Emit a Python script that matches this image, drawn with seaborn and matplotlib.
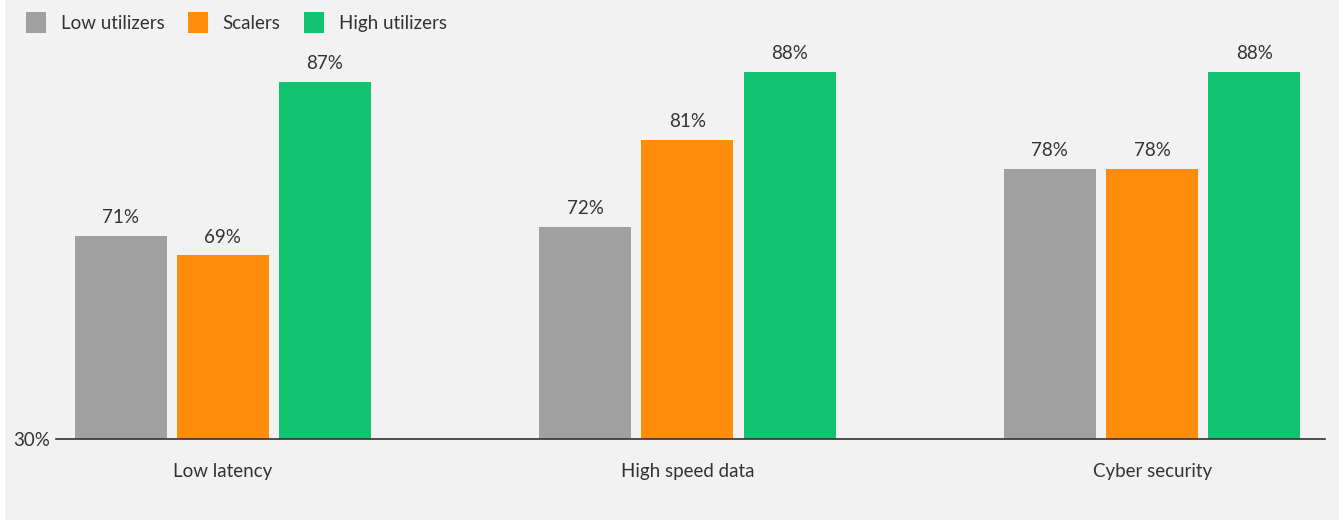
import pandas as pd
import seaborn as sns
import matplotlib.pyplot as plt
from matplotlib.patches import Patch, Rectangle

# data
categories = ["Low latency", "High speed data", "Cyber security"]
groups = ["Low utilizers", "Scalers", "High utilizers"]
low_utilizers = [71, 72, 78]
scalers = [69, 81, 78]
high_utilizers = [87, 88, 88]
floor_label = "30%"

colors = ["#a0a0a0", "#ff8c0a", "#12c46f"]
bg = "#f2f2f2"
ink = "#333333"

df = pd.DataFrame({
    "category": categories * 3,
    "group": [g for g in groups for _ in categories],
    "value": low_utilizers + scalers + high_utilizers,
})

sns.set_theme(style="white")
plt.rcParams["font.family"] = ["Lato", "DejaVu Sans"]

fig = plt.figure(figsize=(13.39, 5.2), dpi=100)
fig.patch.set_facecolor(bg)
# thin white strip on the left edge
fig.patches.append(Rectangle((0, 0), 5 / 1339, 1, transform=fig.transFigure,
                             facecolor="white", edgecolor="none"))

ax = fig.add_axes([56 / 1339, 81 / 520, (1325 - 56) / 1339, (439 - 43) / 520])
ax.set_facecolor(bg)

sns.barplot(data=df, x="category", y="value", hue="group", order=categories,
            hue_order=groups, palette=colors, width=0.66, gap=0.1,
            saturation=1, linewidth=0, ax=ax, legend=False)

for cont in ax.containers:
    ax.bar_label(cont, fmt="%d%%", padding=7, fontsize=13.5, color=ink)

ax.set_ylim(50, 91)
ax.set_xlim(-0.359, 2.372)
ax.set_yticks([50])
ax.set_yticklabels([floor_label])
ax.tick_params(axis="y", length=0, pad=4, labelsize=13.5, labelcolor=ink)
ax.tick_params(axis="x", length=0, pad=17, labelsize=13.5, labelcolor=ink)
ax.set_xlabel("")
ax.set_ylabel("")
for side in ["top", "right", "left"]:
    ax.spines[side].set_visible(False)
ax.spines["bottom"].set_color(ink)
ax.spines["bottom"].set_linewidth(1.2)

handles = [Patch(facecolor=c, edgecolor="none") for c in colors]
fig.legend(handles, groups, loc="upper left", bbox_to_anchor=(0.007, 1.01),
           ncol=3, frameon=False, fontsize=13.5, handlelength=1.05,
           handleheight=1.4, handletextpad=0.8, columnspacing=1.25,
           labelcolor=ink)

fig.savefig("out.png", dpi=100, facecolor=fig.get_facecolor())
